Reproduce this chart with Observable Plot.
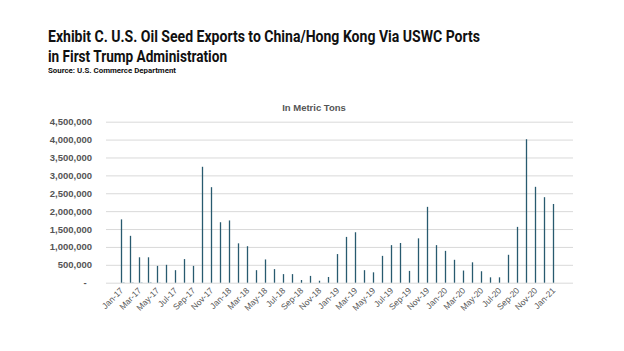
<!DOCTYPE html>
<html>
<head>
<meta charset="utf-8">
<script src="https://cdn.jsdelivr.net/npm/d3@7"></script>
<script src="https://cdn.jsdelivr.net/npm/@observablehq/plot@0.6"></script>
<style>
  html, body { margin: 0; padding: 0; background: #fff; }
  #wrap { position: relative; width: 624px; height: 351px; overflow: hidden; }
  .t { position: absolute; left: 48px; white-space: nowrap; color: #111; font-family: Roboto, "Liberation Sans", sans-serif; font-weight: bold; transform-origin: 0 0; }
  .l1 { top: 28.5px; font-size: 16px; line-height: 16px; }
  .l2 { top: 48.5px; font-size: 16px; line-height: 16px; }
  .src { top: 67px; font-size: 8px; line-height: 8px; }
  #plot { position: absolute; left: 0; top: 0; }
  #plot g[aria-label="y-axis tick label"] text { font-weight: bold; }
</style>
</head>
<body>
<div id="wrap">
  <div id="plot"></div>
  <div class="t l1" data-w="432">Exhibit C. U.S. Oil Seed Exports to China/Hong Kong Via USWC Ports</div>
  <div class="t l2" data-w="179">in First Trump Administration</div>
  <div class="t src" data-w="128">Source: U.S. Commerce Department</div>
</div>
<script>
const months = ["Jan-17","Feb-17","Mar-17","Apr-17","May-17","Jun-17","Jul-17","Aug-17","Sep-17","Oct-17","Nov-17","Dec-17",
  "Jan-18","Feb-18","Mar-18","Apr-18","May-18","Jun-18","Jul-18","Aug-18","Sep-18","Oct-18","Nov-18","Dec-18",
  "Jan-19","Feb-19","Mar-19","Apr-19","May-19","Jun-19","Jul-19","Aug-19","Sep-19","Oct-19","Nov-19","Dec-19",
  "Jan-20","Feb-20","Mar-20","Apr-20","May-20","Jun-20","Jul-20","Aug-20","Sep-20","Oct-20","Nov-20","Dec-20",
  "Jan-21"];
const mainTons = [1770000, 1310000, 710000, 710000, 470000, 500000, 350000, 660000, 470000, 3240000, 2670000, 1690000,
  1740000, 1100000, 1020000, 350000, 650000, 380000, 240000, 240000, 75000, 190000, 55000, 160000,
  800000, 1280000, 1410000, 350000, 290000, 750000, 1050000, 1110000, 330000, 1240000, 2120000, 1050000,
  890000, 640000, 340000, 570000, 320000, 150000, 150000, 780000, 1560000, 4010000, 2680000, 2390000,
  2200000];
const minorTons = [15000, 15000, 15000, 20000, 10000, 0, 0, 0, 0, 0, 0, 0,
  0, 0, 0, 0, 0, 0, 0, 0, 0, 0, 0, 0,
  0, 0, 0, 0, 0, 0, 0, 0, 0, 0, 0, 0,
  0, 0, 0, 0, 0, 0, 0, 0, 0, 0, 0, 0,
  0];
const yTicks = [0, 500000, 1000000, 1500000, 2000000, 2500000, 3000000, 3500000, 4000000, 4500000];
const labelMonths = months.filter((m, i) => i % 2 === 0);
const subtitle = "In Metric Tons";

const main = months.map((m, i) => ({month: m, value: mainTons[i]}));
const minor = months.map((m, i) => ({month: m, value: minorTons[i]})).filter(d => d.value > 0);

const fmt = d3.format(",");
const gray = "#555555";

const chart = Plot.plot({
  width: 624,
  height: 351,
  marginLeft: 104,
  marginRight: 53,
  marginTop: 121.7,
  marginBottom: 68.3,
  style: {fontFamily: "'Liberation Sans', Arial, sans-serif", background: "transparent", overflow: "visible"},
  x: {type: "band", domain: months, paddingInner: 0, paddingOuter: 0},
  y: {domain: [0, 4500000]},
  marks: [
    Plot.gridY(yTicks, {stroke: "#d9d9d9", strokeOpacity: 1, strokeWidth: 1, insetLeft: 2, insetRight: -2}),
    Plot.barY(minor, {x: "month", y: "value", fill: "#9fb9c4", insetLeft: 5.6, insetRight: 1.4}),
    Plot.barY(main, {x: "month", y: "value", fill: "#285a6f", insetLeft: 3.85, insetRight: 3.85}),
    Plot.axisY({ticks: yTicks, tickSize: 0, tickPadding: 12.5, fontSize: 9.5, fontWeight: "bold", fill: gray,
      tickFormat: d => d === 0 ? "-\u00a0\u00a0" : fmt(d), label: null}),
    Plot.axisX({ticks: labelMonths, tickSize: 0, tickPadding: 6, tickRotate: -45, fontSize: 8.5, fill: gray, label: null}),
    Plot.text([subtitle], {frameAnchor: "top", dy: -17.5, dx: -24, fontSize: 9.5, fontWeight: "bold", fill: gray})
  ]
});
document.getElementById("plot").appendChild(chart);

document.querySelectorAll(".t").forEach(el => {
  const target = +el.dataset.w;
  const w = el.getBoundingClientRect().width;
  if (w > 0) el.style.transform = `scaleX(${target / w})`;
});
</script>
</body>
</html>
